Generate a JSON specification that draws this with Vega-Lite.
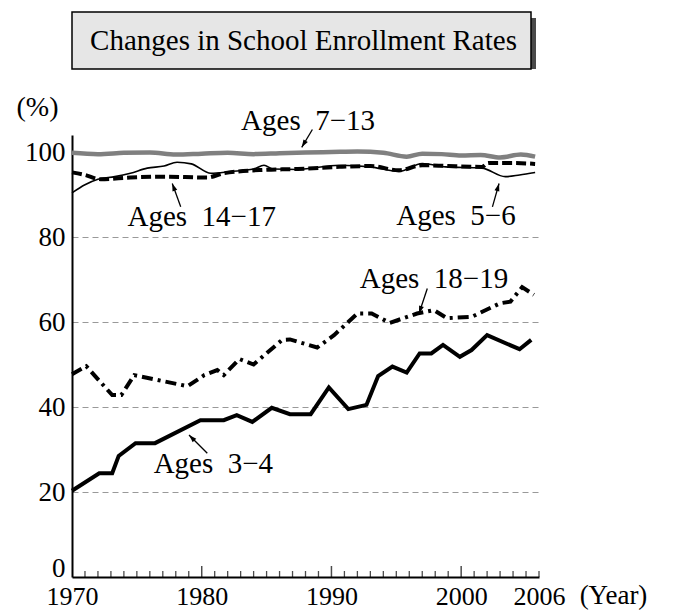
{
  "$schema": "https://vega.github.io/schema/vega-lite/v6.json",
  "padding": {"left": 16, "top": 11, "right": 5, "bottom": 3},
  "bounds": "flush",
  "spacing": 66,
  "config": {
    "view": {"stroke": null},
    "font": "Liberation Serif",
    "axis": {"labelColor": "black", "titleColor": "black", "labelFont": "Liberation Serif", "titleFont": "Liberation Serif", "titleFontWeight": "normal"}
  },
  "datasets": {
    "ages34": [
      {"year": 1970.0, "rate": 20.3}, {"year": 1972.1, "rate": 24.4}, {"year": 1973.1, "rate": 24.4},
      {"year": 1973.6, "rate": 28.5}, {"year": 1974.9, "rate": 31.5}, {"year": 1976.4, "rate": 31.5},
      {"year": 1979.9, "rate": 36.9}, {"year": 1981.7, "rate": 36.9}, {"year": 1982.7, "rate": 38.1},
      {"year": 1983.9, "rate": 36.5}, {"year": 1985.4, "rate": 39.8}, {"year": 1986.8, "rate": 38.3},
      {"year": 1988.4, "rate": 38.3}, {"year": 1989.8, "rate": 44.6}, {"year": 1991.3, "rate": 39.5},
      {"year": 1992.7, "rate": 40.5}, {"year": 1993.6, "rate": 47.3}, {"year": 1994.7, "rate": 49.5},
      {"year": 1995.8, "rate": 48.1}, {"year": 1996.8, "rate": 52.6}, {"year": 1997.7, "rate": 52.6},
      {"year": 1998.6, "rate": 54.6}, {"year": 1999.9, "rate": 51.8}, {"year": 2000.8, "rate": 53.4},
      {"year": 2002.0, "rate": 56.9}, {"year": 2004.5, "rate": 53.6}, {"year": 2005.4, "rate": 55.8}
    ],
    "ages1819": [
      {"year": 1970.0, "rate": 47.7}, {"year": 1971.1, "rate": 49.6}, {"year": 1973.1, "rate": 42.8},
      {"year": 1973.8, "rate": 42.8}, {"year": 1974.8, "rate": 47.5}, {"year": 1978.9, "rate": 44.9},
      {"year": 1980.2, "rate": 47.5}, {"year": 1981.2, "rate": 48.7}, {"year": 1981.7, "rate": 47.5},
      {"year": 1982.9, "rate": 51.3}, {"year": 1984.0, "rate": 50.0}, {"year": 1986.2, "rate": 55.8},
      {"year": 1986.8, "rate": 55.9}, {"year": 1988.9, "rate": 54.0}, {"year": 1990.2, "rate": 56.9},
      {"year": 1992.0, "rate": 62.0}, {"year": 1993.1, "rate": 62.0}, {"year": 1994.5, "rate": 59.8},
      {"year": 1996.6, "rate": 62.0}, {"year": 1997.9, "rate": 62.8}, {"year": 1998.9, "rate": 60.9},
      {"year": 2000.8, "rate": 61.2}, {"year": 2003.0, "rate": 64.4}, {"year": 2003.8, "rate": 64.8},
      {"year": 2004.7, "rate": 68.2}, {"year": 2005.6, "rate": 66.4}
    ],
    "ages713": [
      {"year": 1970, "rate": 99.8}, {"year": 1972, "rate": 99.5}, {"year": 1974, "rate": 99.8},
      {"year": 1976, "rate": 99.9}, {"year": 1978, "rate": 99.4}, {"year": 1980, "rate": 99.6},
      {"year": 1982, "rate": 99.8}, {"year": 1984, "rate": 99.5}, {"year": 1986, "rate": 99.7},
      {"year": 1988, "rate": 99.9}, {"year": 1990, "rate": 100.0}, {"year": 1992, "rate": 100.1},
      {"year": 1994, "rate": 99.8}, {"year": 1995.8, "rate": 98.9}, {"year": 1997, "rate": 99.6},
      {"year": 1998.5, "rate": 99.5}, {"year": 2000, "rate": 99.2}, {"year": 2001.5, "rate": 99.3},
      {"year": 2003, "rate": 98.7}, {"year": 2004.6, "rate": 99.4}, {"year": 2005.7, "rate": 98.9}
    ],
    "ages56": [
      {"year": 1970, "rate": 90.4}, {"year": 1971, "rate": 92.3}, {"year": 1972, "rate": 93.6},
      {"year": 1973.3, "rate": 94.2}, {"year": 1974.5, "rate": 95.0}, {"year": 1975.8, "rate": 96.2},
      {"year": 1977.1, "rate": 96.7}, {"year": 1978.1, "rate": 97.6}, {"year": 1979.2, "rate": 97.2},
      {"year": 1980.7, "rate": 95.0}, {"year": 1982.2, "rate": 95.4}, {"year": 1984, "rate": 96.0},
      {"year": 1984.8, "rate": 96.9}, {"year": 1985.5, "rate": 96.0}, {"year": 1987.4, "rate": 95.9},
      {"year": 1990.6, "rate": 96.9}, {"year": 1993, "rate": 96.5}, {"year": 1995.2, "rate": 95.4},
      {"year": 1997, "rate": 97.3}, {"year": 1998.8, "rate": 96.5}, {"year": 2001.6, "rate": 96.2},
      {"year": 2003.4, "rate": 94.2}, {"year": 2004.5, "rate": 94.6}, {"year": 2005.7, "rate": 95.2}
    ],
    "ages1417": [
      {"year": 1970, "rate": 95.2}, {"year": 1971, "rate": 94.6}, {"year": 1972.2, "rate": 93.6},
      {"year": 1974.5, "rate": 94.0}, {"year": 1977, "rate": 94.2}, {"year": 1980.4, "rate": 94.0},
      {"year": 1981.7, "rate": 95.0}, {"year": 1984.8, "rate": 95.8}, {"year": 1987.4, "rate": 96.0},
      {"year": 1990.6, "rate": 96.5}, {"year": 1993, "rate": 96.7}, {"year": 1995.2, "rate": 95.7},
      {"year": 1997, "rate": 96.9}, {"year": 1999, "rate": 96.7}, {"year": 2001.6, "rate": 96.5},
      {"year": 2002.1, "rate": 97.4}, {"year": 2004, "rate": 97.4}, {"year": 2005.7, "rate": 97.2}
    ],
    "labels": [
      {"series": "7-13", "label": "Ages\u00a0\u00a07−13", "year": 1988.2, "rate": 107.3},
      {"series": "14-17", "label": "Ages\u00a0\u00a014−17", "year": 1980.0, "rate": 84.7},
      {"series": "5-6", "label": "Ages\u00a0\u00a05−6", "year": 1999.6, "rate": 84.9},
      {"series": "18-19", "label": "Ages\u00a0\u00a018−19", "year": 1997.9, "rate": 70.1},
      {"series": "3-4", "label": "Ages\u00a0\u00a03−4", "year": 1980.9, "rate": 26.6}
    ],
    "arrows": [
      {"series": "7-13", "year": 1988.53, "rate": 105.3, "year2": 1987.71, "rate2": 101.1},
      {"series": "14-17", "year": 1978.38, "rate": 87.1, "year2": 1977.73, "rate2": 92.6},
      {"series": "5-6", "year": 2002.41, "rate": 87.1, "year2": 2002.92, "rate2": 92.6},
      {"series": "18-19", "year": 1997.39, "rate": 67.9, "year2": 1996.75, "rate2": 62.0},
      {"series": "3-4", "year": 1980.43, "rate": 29.1, "year2": 1979.02, "rate2": 33.4}
    ],
    "ticks": [
      {"year": 1971}, {"year": 1972}, {"year": 1973}, {"year": 1974}, {"year": 1975}, {"year": 1976},
      {"year": 1977}, {"year": 1978}, {"year": 1979}, {"year": 1980}, {"year": 1981}, {"year": 1982},
      {"year": 1983}, {"year": 1984}, {"year": 1985}, {"year": 1986}, {"year": 1987}, {"year": 1988},
      {"year": 1989}, {"year": 1990}, {"year": 1991}, {"year": 1992}, {"year": 1993}, {"year": 1994},
      {"year": 1995}, {"year": 1996}, {"year": 1997}, {"year": 1998}, {"year": 1999}, {"year": 2000},
      {"year": 2001}, {"year": 2002}, {"year": 2003}, {"year": 2004}, {"year": 2005}, {"year": 2006}
    ]
  },
  "vconcat": [
    {
      "width": 459,
      "height": 57,
      "data": {"values": [{"title": "Changes in School Enrollment Rates"}]},
      "layer": [
        {"mark": {"type": "rect", "fill": "#4a4a4a", "xOffset": 5, "yOffset": 6}, "encoding": {}},
        {"mark": {"type": "rect", "fill": "#e6e6e6", "stroke": "black", "strokeWidth": 1.5}, "encoding": {}},
        {"mark": {"type": "text", "font": "Liberation Serif", "fontSize": 29, "color": "black", "baseline": "middle", "align": "center", "dx": 2},
         "encoding": {"text": {"field": "title"}}}
      ]
    },
    {
      "width": 467,
      "height": 442,
      "layer": [
        {
          "data": {"name": "ages713"},
          "mark": {"type": "line", "color": "#808080", "strokeWidth": 4.5, "interpolate": "monotone"},
          "encoding": {
            "x": {"field": "year", "type": "quantitative", "scale": {"domain": [1970, 2006], "nice": false, "zero": false},
              "axis": {
                "values": [1970, 1980, 1990, 2000, 2006],
                "format": "d",
                "labelFontSize": 26, "labelPadding": 6, "labelFlush": false, "labelOverlap": false,
                "ticks": false,
                "domainColor": "black", "domainWidth": 2, "grid": false,
                "title": "(Year)", "titleFontSize": 27, "titleX": 541, "titleY": 18, "titleAlign": "center", "titleBaseline": "middle"
              }},
            "y": {"field": "rate", "type": "quantitative", "scale": {"domain": [0, 104], "nice": false},
              "axis": {
                "values": [0, 20, 40, 60, 80, 100],
                "labelFontSize": 27, "labelPadding": 7, "ticks": false,
                "labelOffset": {"condition": {"test": "datum.value === 0", "value": -9}, "value": 0},
                "domainColor": "black", "domainWidth": 2,
                "grid": true, "gridColor": "#999999", "gridDash": [6, 4], "gridWidth": 1.2,
                "gridOpacity": {"condition": {"test": "datum.value > 0 && datum.value < 100", "value": 1}, "value": 0},
                "title": "(%)", "titleFontSize": 28, "titleAngle": 0, "titleX": -35, "titleY": -28, "titleAlign": "center", "titleBaseline": "middle"
              }}
          }
        },
        {
          "data": {"name": "ages56"},
          "mark": {"type": "line", "color": "black", "strokeWidth": 1.6, "interpolate": "monotone"},
          "encoding": {"x": {"field": "year", "type": "quantitative"}, "y": {"field": "rate", "type": "quantitative"}}
        },
        {
          "data": {"name": "ages1417"},
          "mark": {"type": "line", "color": "black", "strokeWidth": 4, "strokeDash": [10, 4], "interpolate": "monotone"},
          "encoding": {"x": {"field": "year", "type": "quantitative"}, "y": {"field": "rate", "type": "quantitative"}}
        },
        {
          "data": {"name": "ages1819"},
          "mark": {"type": "line", "color": "black", "strokeWidth": 4, "strokeDash": [11, 5, 3, 5]},
          "encoding": {"x": {"field": "year", "type": "quantitative"}, "y": {"field": "rate", "type": "quantitative"}}
        },
        {
          "data": {"name": "ages34"},
          "mark": {"type": "line", "color": "black", "strokeWidth": 4},
          "encoding": {"x": {"field": "year", "type": "quantitative"}, "y": {"field": "rate", "type": "quantitative"}}
        },
        {
          "data": {"name": "ticks"},
          "transform": [{"filter": "datum.year % 10 !== 0"}],
          "mark": {"type": "tick", "orient": "vertical", "color": "black", "size": 6, "thickness": 1.3, "yOffset": -3},
          "encoding": {"x": {"field": "year", "type": "quantitative"}, "y": {"datum": 0}}
        },
        {
          "data": {"name": "ticks"},
          "transform": [{"filter": "datum.year % 10 === 0"}],
          "mark": {"type": "tick", "orient": "vertical", "color": "black", "size": 11, "thickness": 1.5, "yOffset": -5.5},
          "encoding": {"x": {"field": "year", "type": "quantitative"}, "y": {"datum": 0}}
        },
        {
          "data": {"name": "arrows"},
          "mark": {"type": "rule", "color": "black", "strokeWidth": 1.3},
          "encoding": {
            "x": {"field": "year", "type": "quantitative"}, "y": {"field": "rate", "type": "quantitative"},
            "x2": {"field": "year2"}, "y2": {"field": "rate2"}
          }
        },
        {
          "data": {"name": "arrows"},
          "transform": [{"filter": "datum.series === '7-13'"}],
          "mark": {"type": "point", "filled": true, "color": "black", "opacity": 1, "size": 45, "shape": "M0,0L0.75,2.3L-0.75,2.3Z", "angle": 210.5},
          "encoding": {"x": {"field": "year2", "type": "quantitative"}, "y": {"field": "rate2", "type": "quantitative"}}
        },
        {
          "data": {"name": "arrows"},
          "transform": [{"filter": "datum.series === '14-17'"}],
          "mark": {"type": "point", "filled": true, "color": "black", "opacity": 1, "size": 45, "shape": "M0,0L0.75,2.3L-0.75,2.3Z", "angle": -19.7},
          "encoding": {"x": {"field": "year2", "type": "quantitative"}, "y": {"field": "rate2", "type": "quantitative"}}
        },
        {
          "data": {"name": "arrows"},
          "transform": [{"filter": "datum.series === '5-6'"}],
          "mark": {"type": "point", "filled": true, "color": "black", "opacity": 1, "size": 45, "shape": "M0,0L0.75,2.3L-0.75,2.3Z", "angle": 16},
          "encoding": {"x": {"field": "year2", "type": "quantitative"}, "y": {"field": "rate2", "type": "quantitative"}}
        },
        {
          "data": {"name": "arrows"},
          "transform": [{"filter": "datum.series === '18-19'"}],
          "mark": {"type": "point", "filled": true, "color": "black", "opacity": 1, "size": 45, "shape": "M0,0L0.75,2.3L-0.75,2.3Z", "angle": 198.4},
          "encoding": {"x": {"field": "year2", "type": "quantitative"}, "y": {"field": "rate2", "type": "quantitative"}}
        },
        {
          "data": {"name": "arrows"},
          "transform": [{"filter": "datum.series === '3-4'"}],
          "mark": {"type": "point", "filled": true, "color": "black", "opacity": 1, "size": 45, "shape": "M0,0L0.75,2.3L-0.75,2.3Z", "angle": -45},
          "encoding": {"x": {"field": "year2", "type": "quantitative"}, "y": {"field": "rate2", "type": "quantitative"}}
        },
        {
          "data": {"name": "labels"},
          "mark": {"type": "text", "font": "Liberation Serif", "fontSize": 29, "color": "black", "align": "center", "baseline": "middle"},
          "encoding": {
            "x": {"field": "year", "type": "quantitative"}, "y": {"field": "rate", "type": "quantitative"},
            "text": {"field": "label"}
          }
        }
      ]
    }
  ]
}
